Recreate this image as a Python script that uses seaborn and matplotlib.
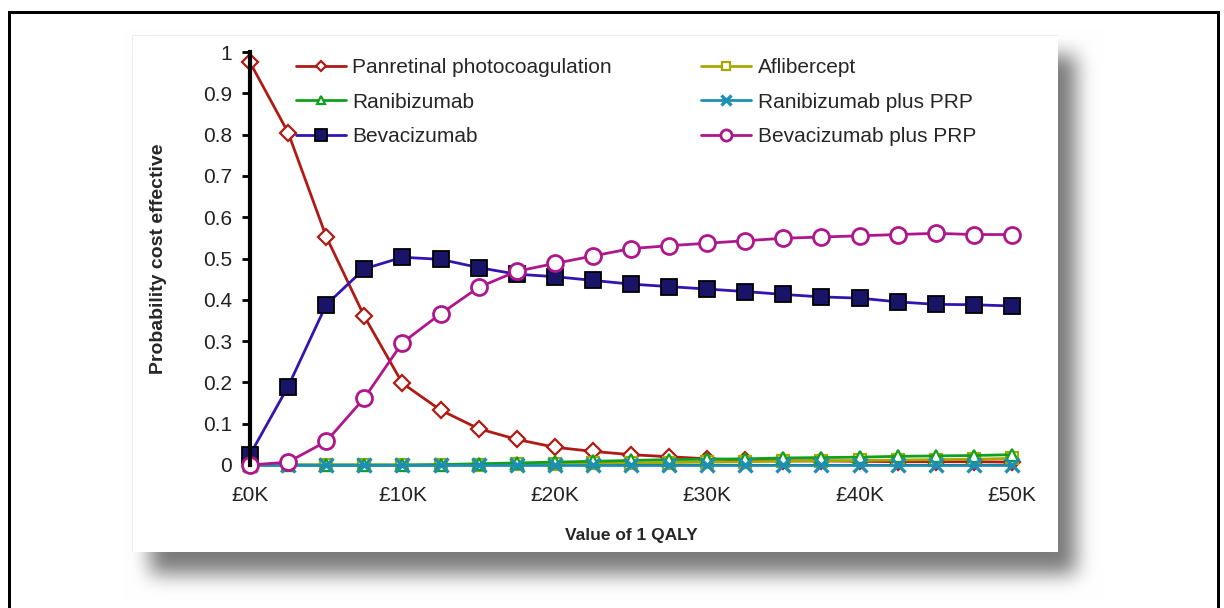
import numpy as np
import pandas as pd
import matplotlib
matplotlib.use("Agg")
import matplotlib.pyplot as plt
import seaborn as sns

# willingness-to-pay thresholds (GBP), every 2.5K
wtp = [0, 2500, 5000, 7500, 10000, 12500, 15000, 17500, 20000, 22500, 25000,
       27500, 30000, 32500, 35000, 37500, 40000, 42500, 45000, 47500, 50000]

prp = [0.975, 0.805, 0.553, 0.360, 0.198, 0.133, 0.088, 0.062, 0.043, 0.033, 0.025,
       0.020, 0.015, 0.012, 0.010, 0.010, 0.009, 0.008, 0.008, 0.008, 0.007]
aflibercept = [0.0, 0.0, 0.0, 0.0, 0.0, 0.0, 0.001, 0.002, 0.003, 0.004, 0.005,
               0.006, 0.007, 0.008, 0.009, 0.010, 0.011, 0.012, 0.013, 0.014, 0.016]
ranibizumab = [0.0, 0.0, 0.0, 0.0, 0.0, 0.001, 0.003, 0.005, 0.007, 0.009, 0.011,
               0.013, 0.014, 0.015, 0.017, 0.018, 0.019, 0.021, 0.022, 0.023, 0.025]
rani_prp = [0.0] * 21
bevacizumab = [0.025, 0.190, 0.388, 0.475, 0.503, 0.498, 0.478, 0.462, 0.456, 0.447, 0.438,
               0.432, 0.426, 0.420, 0.413, 0.407, 0.404, 0.395, 0.389, 0.388, 0.385]
beva_prp = [0.0, 0.007, 0.057, 0.162, 0.296, 0.366, 0.430, 0.469, 0.488, 0.506, 0.524,
            0.531, 0.537, 0.543, 0.549, 0.552, 0.555, 0.558, 0.561, 0.558, 0.558]

x_ticks = [0, 10000, 20000, 30000, 40000, 50000]
x_labels = ["£0K", "£10K", "£20K", "£30K", "£40K", "£50K"]
y_ticks = [0, 0.1, 0.2, 0.3, 0.4, 0.5, 0.6, 0.7, 0.8, 0.9, 1]
y_labels = ["0", "0.1", "0.2", "0.3", "0.4", "0.5", "0.6", "0.7", "0.8", "0.9", "1"]

sns.set_theme(style="white")
plt.rcParams['font.family'] = ['Liberation Sans', 'DejaVu Sans']

W, H = 1224, 608
fig = plt.figure(figsize=(W / 100, H / 100), dpi=100)

# background: outer frame, panel with soft drop shadow
img = np.ones((H, W, 3))
mask = np.zeros((H, W))
mask[55:574, 150:1076] = 1.0
k = 19
kern = np.ones(k) / k
for _ in range(3):
    mask = np.apply_along_axis(lambda r: np.convolve(r, kern, mode="same"), 1, mask)
    mask = np.apply_along_axis(lambda c: np.convolve(c, kern, mode="same"), 0, mask)
img *= (1 - 0.52 * mask)[:, :, None]
img[35:552, 132:1058] = 1.0
img[35, 132:1058] = 0.93
img[35:552, 132] = 0.93
img[11:14, 8:1220] = 0.0
img[11:, 8:11] = 0.0
img[11:, 1217:1220] = 0.0
fig.figimage(img, 0, 0, zorder=0)

ax = fig.add_axes([250 / W, (H - 465) / H, 762 / W, 413 / H])
ax.set_zorder(1)
ax.set_facecolor("none")

series = [
    ("Panretinal photocoagulation", prp, dict(color="#B01A14", marker="D", markersize=8,
                                              markerfacecolor="white", markeredgecolor="#B01A14", markeredgewidth=1.6)),
    ("Aflibercept", aflibercept, dict(color="#A8A800", marker="s", markersize=8,
                                      markerfacecolor="white", markeredgecolor="#A8A800", markeredgewidth=1.6)),
    ("Ranibizumab", ranibizumab, dict(color="#10A020", marker="^", markersize=8,
                                      markerfacecolor="white", markeredgecolor="#10A020", markeredgewidth=1.6)),
    ("Ranibizumab plus PRP", rani_prp, dict(color="#1E8FB4", marker="x", markersize=10,
                                             markeredgecolor="#1E8FB4", markeredgewidth=2.4)),
    ("Bevacizumab", bevacizumab, dict(color="#3414B0", marker="s", markersize=11.5,
                                      markerfacecolor="#1A1468", markeredgecolor="black", markeredgewidth=1.3)),
    ("Bevacizumab plus PRP", beva_prp, dict(color="#B0168C", marker="o", markersize=11.5,
                                            markerfacecolor="white", markeredgecolor="#B0168C", markeredgewidth=2)),
]

handles = {}
for name, vals, kw in series:
    df = pd.DataFrame({"wtp": wtp, "p": vals})
    sns.lineplot(data=df, x="wtp", y="p", ax=ax, linewidth=2, label=name,
                 clip_on=False, **kw)
    handles[name] = ax.get_lines()[-1]

ax.set_xlim(0, 50000)
ax.set_ylim(0, 1)
ax.set_xticks(x_ticks)
ax.set_xticklabels(x_labels, fontsize=15, color="#222222")
ax.set_yticks(y_ticks)
ax.set_yticklabels(y_labels, fontsize=15, color="#222222")
ax.tick_params(axis="y", direction="out", length=6, width=2, color="black", pad=7, left=True)
ax.tick_params(axis="x", length=0, pad=15)
for s in ["top", "right"]:
    ax.spines[s].set_visible(False)
ax.spines["left"].set_linewidth(3)
ax.spines["left"].set_color("black")
ax.spines["bottom"].set_linewidth(1.5)
ax.spines["bottom"].set_color("black")
ax.spines["bottom"].set_zorder(0.5)

ax.set_xlabel("Value of 1 QALY", fontsize=12.5, fontweight="bold", labelpad=17)
ax.set_ylabel("Probability cost effective", fontsize=14, fontweight="bold", labelpad=26)

order = ["Panretinal photocoagulation", "Ranibizumab", "Bevacizumab",
         "Aflibercept", "Ranibizumab plus PRP", "Bevacizumab plus PRP"]
ax.legend([handles[n] for n in order], order, ncol=2, frameon=False,
          loc="upper left", bbox_to_anchor=(296 / W, (H - 58) / H),
          bbox_transform=fig.transFigure, fontsize=15, handlelength=2.4,
          handletextpad=0.3, columnspacing=4.3, labelspacing=0.75,
          borderaxespad=0, borderpad=0, markerscale=0.7)

fig.savefig("out.png", dpi=100)
